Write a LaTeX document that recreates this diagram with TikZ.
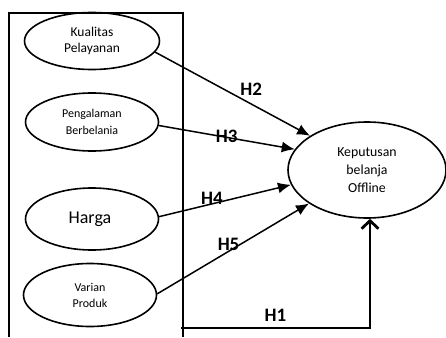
\documentclass[tikz,border=0pt]{standalone}
\usepackage{fontspec}
\setmainfont{Carlito}
\usepackage{tikz}
\usetikzlibrary{arrows}
\usetikzlibrary{arrows.meta}
\usetikzlibrary{shapes}
\usetikzlibrary{shapes.geometric}
\tikzstyle{variabel}=[
   ellipse,
   draw=black,
   line width=1.6pt,
   align=center,
   minimum width=133pt,
   minimum height=58pt,
   inner sep=0pt
]
\tikzstyle{hipotesis}=[
   font=\fontsize{19}{21}\selectfont\bfseries,
   inner sep=0pt
]
\newcommand{\ukuran}[2] {\fontsize{#1}{#2}\selectfont}

\begin{document}
\begin{tikzpicture}[
         >=latex,
         x=1pt, y=-1pt,
         node distance=80pt
      ]
      \useasboundingbox (0,0) rectangle (446,337);

      % kotak variabel bebas
      \draw[line width=1.6pt] (9,337) -- (9,13) -- (183,13) -- (183,337);

      \node (1) [variabel, minimum width=135pt, minimum height=57pt,
                 font=\ukuran{13.5}{16}] at (92,41) {
         Kualitas
         \\Pelayanan
      };
      \node (2) [variabel, below of=1, yshift=-1pt, font=\ukuran{12}{17}] {
         Pengalaman
         \\Berbelania
      };
      \node (3) [variabel, below of=2, yshift=-17pt, minimum height=62pt,
                 font=\ukuran{18}{20}] {
         Harga
      };
      \node (4) [variabel, below of=3, yshift=4pt, xshift=-2pt, minimum height=63pt,
                 font=\ukuran{12}{16}] {
         Varian
         \\Produk
      };
      \node (5) [variabel, minimum width=158pt, minimum height=96pt,
                 font=\ukuran{13.8}{18}] at (367,170) {
         Keputusan
         \\belanja
         \\Offline
      };

      \coordinate (h1) at (181,328);

      \path[->, line width=1.5pt, >={Latex[length=13pt,width=11pt]}]

      (1.-10) edge node [hipotesis, pos=0.62, yshift=15pt] {H2} (5.149)
      (2.-3) edge node [hipotesis, pos=0.5, yshift=1pt] {H3} (5.164)
      (3.2) edge node [hipotesis, pos=0.4, yshift=6pt] {H4} (5.191)
      (4.1) edge node [hipotesis, pos=0.47, yshift=7pt] {H5} (5.210)
      ;

      \draw[line width=2.8pt, -{Straight Barb[length=8pt,width=17pt,line width=2.8pt]}]
         (h1) -| node [hipotesis, pos=0.25, above=5pt] {H1} ([xshift=3pt]5.south);

   \end{tikzpicture}
\end{document}
